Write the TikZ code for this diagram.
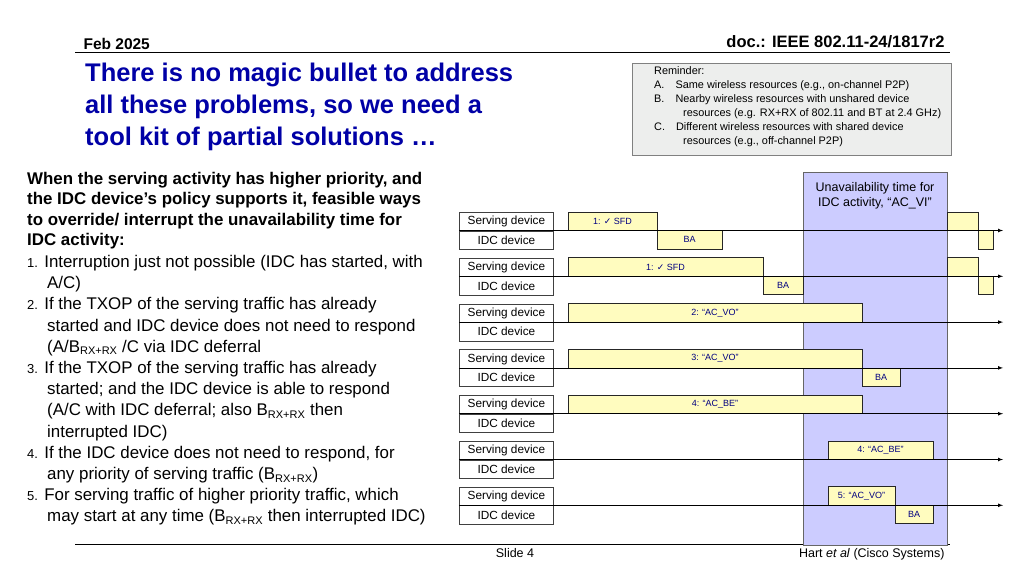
\documentclass[tikz,border=0pt]{standalone}
\usepackage{fontspec}
\setmainfont{Liberation Sans}
\newfontfamily\symf{DejaVu Sans}
\begin{document}
\begin{tikzpicture}[x=1pt,y=-1pt,
 lab/.style={draw=black!75,line width=0.8pt,minimum width=94pt,minimum height=18.5pt,inner sep=0pt,font=\fontsize{11.8}{11.8}\selectfont,anchor=north west},
 yb/.style={draw=black!85,line width=0.7pt,fill=yellow!25},
 yt/.style={font=\fontsize{9}{9}\selectfont,text=blue!50!black},
 tl/.style={-latex,line width=0.7pt},
 body/.style={anchor=north west,align=left,font=\fontsize{16.9}{21.2}\selectfont,inner sep=0pt}]
\useasboundingbox (0,0) rectangle (1024,576);
% header/footer
\node[anchor=base west,font=\bfseries\fontsize{15.5}{16}\selectfont] (feb) at (80,49) {Feb 2025};
\node[anchor=base east,font=\bfseries\fontsize{16.5}{16}\selectfont] (doc) at (948,47) {doc.: IEEE 802.11-24/1817r2};
\draw[line width=0.8pt] (75,52) -- (950,52);
\draw[line width=0.6pt] (75,544) -- (950,544);
\node[anchor=base,font=\fontsize{12.5}{12}\selectfont] (slide) at (515,557) {Slide 4};
\node[anchor=base east,font=\fontsize{12.5}{12}\selectfont] (auth) at (948,557) {Hart \textit{et al} (Cisco Systems)};
% title
\node[anchor=north west,align=left,text=blue!65!black,font=\bfseries\fontsize{25.5}{32}\selectfont,inner sep=0pt] (title) at (85,63) {There is no magic bullet to address\\all these problems, so we need a\\tool kit of partial solutions \dots};
% reminder
\draw[draw=black!50,fill=green!4!black!7] (632,63) rectangle (951,155);
\node[anchor=north west,align=left,font=\fontsize{10.9}{14}\selectfont,inner sep=0pt] (rem) at (654,66) {Reminder:\\
A.\hspace{11pt}Same wireless resources (e.g., on-channel P2P)\\
B.\hspace{11pt}Nearby wireless resources with unshared device\\
\hspace{29pt}resources (e.g. RX+RX of 802.11 and BT at 2.4 GHz)\\
C.\hspace{11pt}Different wireless resources with shared device\\
\hspace{29pt}resources (e.g., off-channel P2P)};
% left text
\node[body,font=\bfseries\fontsize{16.9}{20.5}\selectfont] (para) at (27,172) {When the serving activity has higher priority, and\\the IDC device’s policy supports it, feasible ways\\to override/ interrupt the unavailability time for\\IDC activity:};
\node[body] (list) at (27,255) {{\fontsize{13}{13}\selectfont 1.} Interruption just not possible (IDC has started, with\\
\hspace{20pt}A/C)\\
{\fontsize{13}{13}\selectfont 2.} If the TXOP of the serving traffic has already\\
\hspace{20pt}started and IDC device does not need to respond\\
\hspace{20pt}(A/B$_{\mbox{\fontsize{11}{11}\selectfont RX+RX}}$ /C via IDC deferral\\
{\fontsize{13}{13}\selectfont 3.} If the TXOP of the serving traffic has already\\
\hspace{20pt}started; and the IDC device is able to respond\\
\hspace{20pt}(A/C with IDC deferral; also B$_{\mbox{\fontsize{11}{11}\selectfont RX+RX}}$ then\\
\hspace{20pt}interrupted IDC)\\
{\fontsize{13}{13}\selectfont 4.} If the IDC device does not need to respond, for\\
\hspace{20pt}any priority of serving traffic (B$_{\mbox{\fontsize{11}{11}\selectfont RX+RX}}$)\\
{\fontsize{13}{13}\selectfont 5.} For serving traffic of higher priority traffic, which\\
\hspace{20pt}may start at any time (B$_{\mbox{\fontsize{11}{11}\selectfont RX+RX}}$ then interrupted IDC)};
% purple region
\draw[draw=black!60,line width=1pt,fill=blue!20!white] (803,172) rectangle (947,545);
\node[align=center,font=\fontsize{12.5}{15.5}\selectfont] (unav) at (875,196) {Unavailability time for\\IDC activity, “AC\_VI”};
% rows
\foreach \k in {0,...,6}{
 \pgfmathsetmacro{\T}{212+45.8*\k}
 \node[lab] (s\k) at (459,\T) {Serving device};
 \node[lab] (i\k) at (459,\T+18.5) {IDC device};
 \coordinate (e\k) at (1003,\T+18.5);
}
% row 0
\draw[yb] (568,212) rectangle node[yt]{1: {\symf ✓} SFD} (657,230.5);
\draw[yb] (657,230.5) rectangle node[yt]{BA} (722,249);
\draw[yb] (947,212) rectangle (978,230.5);
\draw[yb] (978,230.5) rectangle (993,249);
% row 1
\draw[yb] (568,257.8) rectangle node[yt]{1: {\symf ✓} SFD} (763,276.3);
\draw[yb] (763,276.3) rectangle node[yt]{BA} (803,294.8);
\draw[yb] (947,257.8) rectangle (978,276.3);
\draw[yb] (978,276.3) rectangle (993,294.8);
% row 2
\draw[yb] (568,303.6) rectangle node[yt]{2: “AC\_VO”} (862,322.1);
% row 3
\draw[yb] (568,349.4) rectangle node[yt]{3: “AC\_VO”} (862,367.9);
\draw[yb] (862,367.9) rectangle node[yt]{BA} (900,386.4);
% row 4
\draw[yb] (568,395.2) rectangle node[yt]{4: “AC\_BE”} (862,413.7);
% row 5
\draw[yb] (828,441) rectangle node[yt]{4: “AC\_BE”} (933,459.5);
% row 6
\draw[yb] (828,486.8) rectangle node[yt]{5: “AC\_VO”} (895,505.3);
\draw[yb] (895,505.3) rectangle node[yt]{BA} (933,523.8);
\foreach \k in {0,...,6}{ \draw[tl] (i\k.north west) -- (e\k); }
\end{tikzpicture}
\end{document}
